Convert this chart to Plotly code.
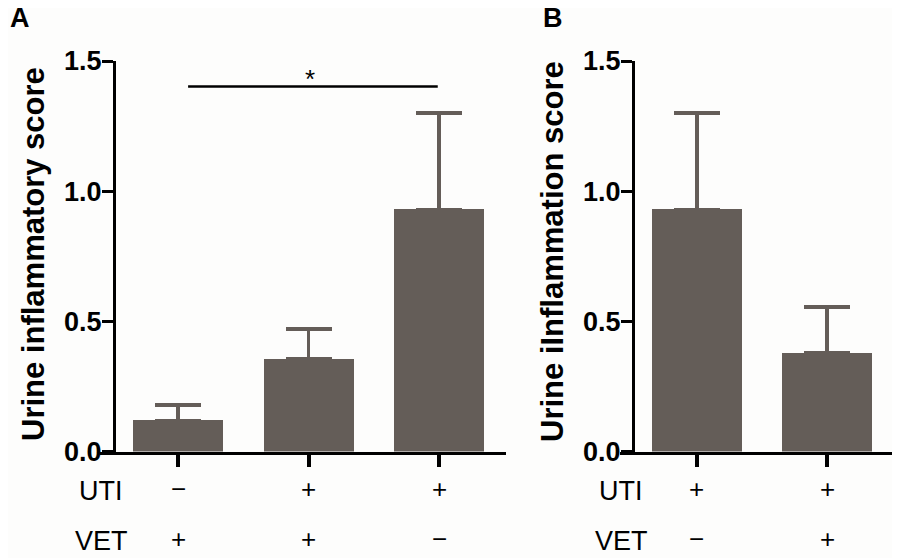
import plotly.graph_objects as go

# panel A: urine inflammatory score by group
groups_a = ['g1', 'g2', 'g3']
uti_a = ['\u2212', '+', '+']
vet_a = ['+', '+', '\u2212']
mean_a = [0.12, 0.355, 0.93]
err_a = [0.058, 0.115, 0.37]

# panel B
groups_b = ['g1', 'g2']
uti_b = ['+', '+']
vet_b = ['\u2212', '+']
mean_b = [0.93, 0.38]
err_b = [0.37, 0.176]

yticks = [0, 0.5, 1.0, 1.5]
bar_col = '#645d58'
font = 'Liberation Sans, Arial, sans-serif'
W, H = 900, 558
OFF = 8  # page body margin


def px_x(p):
    return (p - OFF) / W


def px_y(p):
    return 1 - (p - OFF) / H


fig = go.Figure()
fig.add_trace(go.Bar(x=[0, 1, 2], y=mean_a, width=0.69, marker_color=bar_col,
                     marker_line_width=0, xaxis='x', yaxis='y',
                     error_y=dict(type='data', symmetric=False, array=err_a,
                                  arrayminus=[0] * 3, color=bar_col,
                                  thickness=3.5, width=23)))
fig.add_trace(go.Bar(x=[0, 1], y=mean_b, width=0.69, marker_color=bar_col,
                     marker_line_width=0, xaxis='x2', yaxis='y2',
                     error_y=dict(type='data', symmetric=False, array=err_b,
                                  arrayminus=[0] * 2, color=bar_col,
                                  thickness=3.5, width=23)))

ydom = [px_y(451.5), px_y(61)]
yax = dict(range=[0, 1.5], tickvals=yticks, tickformat='.1f', showline=True,
           linecolor='black', linewidth=3, ticks='outside', ticklen=11,
           tickwidth=3, tickcolor='black', showgrid=False, zeroline=False,
           ticklabelstandoff=-5,
           tickfont=dict(family=font, size=27, color='black', weight='bold'),
           domain=ydom, anchor='free', automargin=False)
xax = dict(showline=True, linecolor='black', linewidth=3, ticks='outside',
           ticklen=12, tickwidth=3.5, tickcolor='black', showticklabels=False,
           showgrid=False, zeroline=False, automargin=False)

fig.update_layout(
    width=W, height=H, margin=dict(l=0, r=0, t=0, b=0, pad=0, autoexpand=False),
    paper_bgcolor='#fdfdfc', plot_bgcolor='rgba(0,0,0,0)', showlegend=False,
    bargap=0,
    xaxis=dict(xax, domain=[px_x(100), px_x(506)], range=[-0.598, 2.513],
               tickvals=[0, 1, 2], anchor='y'),
    yaxis=dict(yax, position=px_x(114)),
    xaxis2=dict(xax, domain=[px_x(620), px_x(894)], range=[-0.592, 1.515],
                tickvals=[0, 1], anchor='y2'),
    yaxis2=dict(yax, position=px_x(633)),
)

# significance bracket between groups 1 and 3
fig.add_shape(type='line', xref='x', yref='y', x0=0.077, x1=1.99,
              y0=1.402, y1=1.402, line=dict(color='black', width=2.5))
fig.add_annotation(x=1.01, y=1.402, xref='x', yref='y', text='*',
                   showarrow=False, yanchor='bottom', yshift=-9,
                   font=dict(family=font, size=26, color='black'))


def label(x, y, text, size, xref='paper', bold=False, angle=0):
    fig.add_annotation(x=x, y=y, xref=xref, yref='paper', text=text,
                       textangle=angle, showarrow=False,
                       xanchor='center', yanchor='middle',
                       font=dict(family=font, size=size, color='black',
                                 weight='bold' if bold else 'normal'))


# panel letters and y titles
label(px_x(20), px_y(18), 'A', 27, bold=True)
label(px_x(553), px_y(18), 'B', 27, bold=True)
label(px_x(33), px_y(254), 'Urine inflammatory score', 31, bold=True, angle=-90)
label(px_x(552), px_y(252), 'Urine iInflammation score', 31, bold=True, angle=-90)

# group rows under the x axes
rows = [('UTI', 491, uti_a, uti_b), ('VET', 541, vet_a, vet_b)]
for name, yp, sa, sb in rows:
    label(px_x(101), px_y(yp), name, 27)
    label(px_x(621), px_y(yp), name, 27)
    for i, s in enumerate(sa):
        label(i, px_y(yp - 2), s, 26, xref='x')
    for i, s in enumerate(sb):
        label(i, px_y(yp - 2), s, 26, xref='x2')

fig.write_html('out.html')
